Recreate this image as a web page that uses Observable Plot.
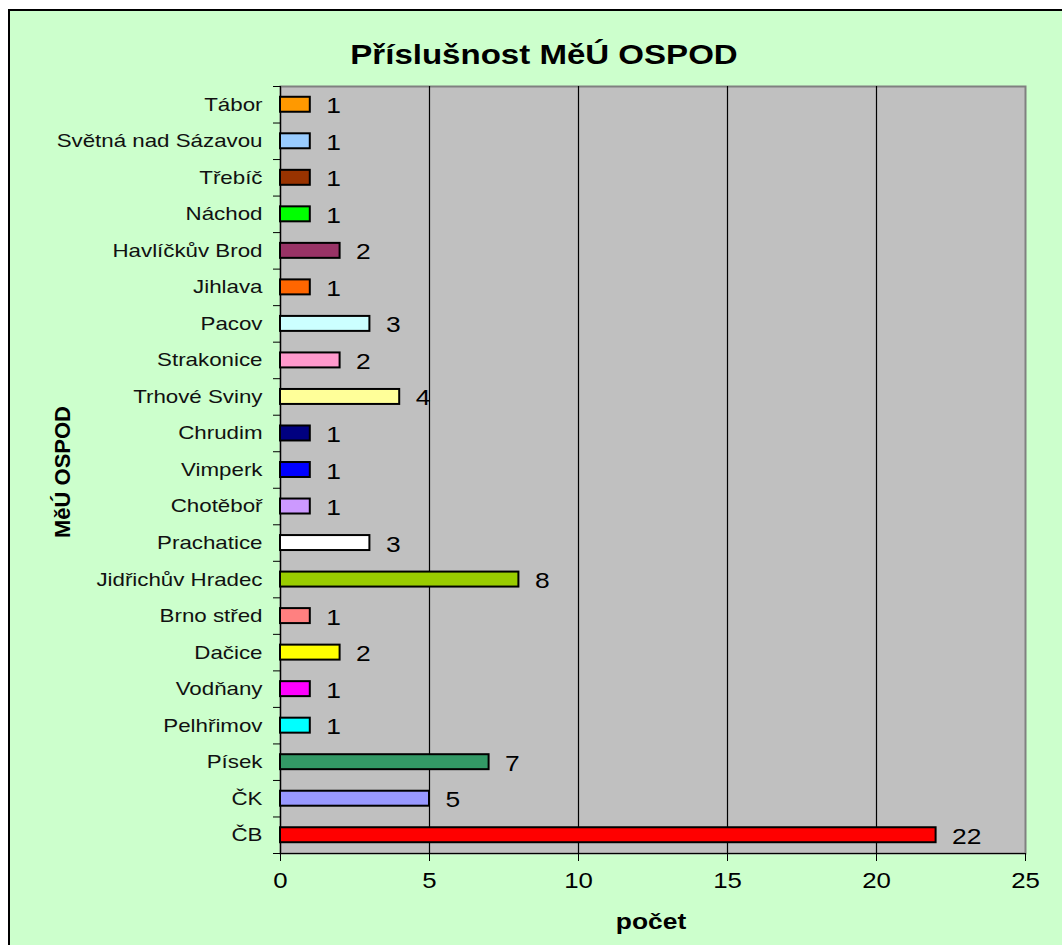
<!DOCTYPE html>
<html><head><meta charset="utf-8">
<script src="https://cdn.jsdelivr.net/npm/d3@7"></script>
<script src="https://cdn.jsdelivr.net/npm/@observablehq/plot@0.6"></script>
<style>
html,body{margin:0;padding:0;background:#fff;overflow:hidden;width:1062px;height:945px}
#bg{position:absolute;left:8px;top:9px;width:1100px;height:1000px;border-left:2px solid #000;border-top:2px solid #000;background:#CCFFCC}
#chart{position:absolute;left:0;top:0}
.lbl{position:absolute;font-family:"Liberation Sans",Arial,sans-serif;font-weight:bold;color:#000;white-space:nowrap;line-height:1}
#title{left:544px;top:41px;font-size:28px;transform:translate(-50%,0) scaleX(1.18)}
#xlabel{left:651px;top:911px;font-size:22px;transform:translate(-50%,0) scaleX(1.2)}
#ylabel{left:63px;top:472px;font-size:22px;transform:translate(-50%,-50%) rotate(-90deg)}
</style></head><body>
<div id="bg"></div>
<div id="chart"></div>
<div id="title" class="lbl">Příslušnost MěÚ OSPOD</div>
<div id="xlabel" class="lbl">počet</div>
<div id="ylabel" class="lbl">MěÚ OSPOD</div>
<script>
const categories = ["Tábor","Světná nad Sázavou","Třebíč","Náchod","Havlíčkův Brod","Jihlava","Pacov","Strakonice","Trhové Sviny","Chrudim","Vimperk","Chotěboř","Prachatice","Jidřichův Hradec","Brno střed","Dačice","Vodňany","Pelhřimov","Písek","ČK","ČB"];
const values = [1,1,1,1,2,1,3,2,4,1,1,1,3,8,1,2,1,1,7,5,22];
const colors = ["#FF9900","#99CCFF","#993300","#00FF00","#993366","#FF6600","#CCFFFF","#FF99CC","#FFFF99","#000080","#0000FF","#CC99FF","#FFFFFF","#99CC00","#FF8080","#FFFF00","#FF00FF","#00FFFF","#339966","#9999FF","#FF0000"];
const xTicks = [0,5,10,15,20,25];
const gridValues = [5,10,15,20];

const data = categories.map((c,i)=>({name:c, value:values[i], color:colors[i]}));

const W = 1062, H = 945, mL = 280, mR = 37, mT = 86, mB = 92;
const step = (H - mT - mB) / categories.length;

const svg = Plot.plot({
  width: W, height: H,
  marginLeft: mL, marginRight: mR, marginTop: mT, marginBottom: mB,
  style: {background: "transparent", fontFamily: "'Liberation Sans', Arial, sans-serif", overflow: "visible", color: "#000"},
  x: {domain: [0, 25], label: null, round: false},
  y: {domain: categories, paddingInner: 0.59, paddingOuter: 0.295, round: false, label: null},
  color: {type: "identity"},
  marks: [
    Plot.frame({fill: "#C0C0C0", stroke: "#808080", strokeWidth: 2}),
    Plot.ruleX(gridValues, {stroke: "#000", strokeWidth: 1.2}),
    Plot.ruleX([0], {stroke: "#000", strokeWidth: 1.2}),
    Plot.ruleY([categories[categories.length-1]], {dy: step/2, stroke: "#000", strokeWidth: 1.2}),
    Plot.axisY({tickSize: 7, tickFormat: () => "", dy: -step/2, stroke: "#000"}),
    Plot.axisY({ticks: [categories[categories.length-1]], tickSize: 7, tickFormat: () => "", dy: step/2, stroke: "#000"}),
    Plot.axisY({tickSize: 0, tickPadding: 18, fontSize: 18.6, fill: "#111"}),
    Plot.axisX({ticks: xTicks, tickSize: 8, tickPadding: 11, fontSize: 21.5, stroke: "#000", fill: "#000"}),
    Plot.barX(data, {x: "value", y: "name", fill: "color", stroke: "#000", strokeWidth: 2}),
    Plot.text(data, {x: "value", y: "name", text: d => String(d.value), textAnchor: "start", dx: 16, dy: 1.5, fontSize: 22, fill: "#000"})
  ]
});

svg.querySelectorAll("text").forEach(t => {
  const xa = t.getAttribute("x");
  const x = xa != null && !isNaN(+xa) ? +xa : 0;
  if (xa != null && !isNaN(+xa)) t.removeAttribute("x");
  const tr = t.getAttribute("transform") || "";
  t.setAttribute("transform", `${tr} translate(${x},0) scale(1.2,1)`);
});

document.getElementById("chart").appendChild(svg);
</script>
</body></html>
